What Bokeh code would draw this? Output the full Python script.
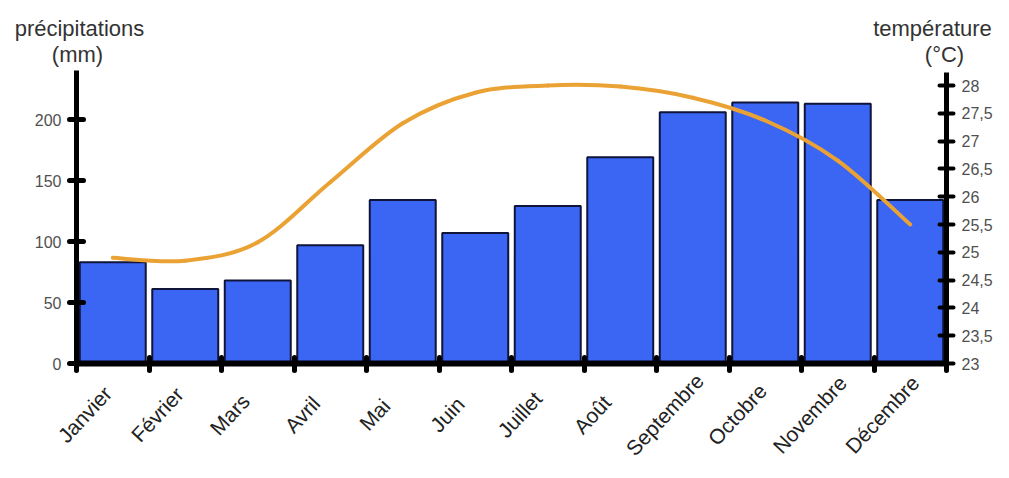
import math
from bokeh.plotting import figure
from bokeh.models import Range1d, LinearAxis, FixedTicker, Label
from bokeh.embed import file_html
from bokeh.resources import INLINE
from bokeh.core.properties import value

months = ["Janvier", "Février", "Mars", "Avril", "Mai", "Juin", "Juillet",
          "Août", "Septembre", "Octobre", "Novembre", "Décembre"]
precip = [83, 61, 68, 97, 134, 107, 129, 169, 206, 214, 213, 134]
temp = [24.9, 24.85, 25.18, 26.26, 27.32, 27.87, 28.0, 27.98, 27.78, 27.37, 26.65, 25.5]
precip_ticks = [0, 50, 100, 150, 200]
temp_ticks = [23, 23.5, 24, 24.5, 25, 25.5, 26, 26.5, 27, 27.5, 28]
temp_tick_labels = ["23", "23,5", "24", "24,5", "25", "25,5", "26", "26,5", "27", "27,5", "28"]

centers = [i + 0.5 for i in range(len(months))]
bounds = list(range(len(months) + 1))

W, H = 993, 462
X0, XS = 76, 72.5      # pixel of x=0, pixels per month
Y0, YS = 363, 1.22     # pixel of precip 0, pixels per mm
TS = 55.6              # pixels per degree
P_TOP = (Y0 - 70) / YS
T_TOP = 23 + (Y0 - 72) / TS

p = figure(width=W, height=H, output_backend="svg", toolbar_location=None,
           x_range=Range1d(-X0 / XS, (W - X0) / XS),
           y_range=Range1d(-(H - Y0) / YS, Y0 / YS),
           x_axis_location=None, y_axis_location=None, min_border=0)
p.outline_line_color = None
p.xgrid.visible = False
p.ygrid.visible = False
p.background_fill_color = "white"
p.extra_y_ranges = {"temp": Range1d(23 - (H - Y0) / TS, 23 + Y0 / TS)}

def style_axis(ax):
    ax.axis_line_width = 5
    ax.axis_line_color = "black"
    ax.major_tick_line_width = 5
    ax.major_tick_line_color = "black"
    ax.major_tick_line_cap = "round"
    ax.major_tick_in = 7
    ax.major_tick_out = 7
    ax.minor_tick_line_color = None
    ax.major_label_text_font = "Liberation Sans"
    ax.major_label_text_font_size = "16px"
    ax.major_label_text_color = "#505050"
    ax.major_label_standoff = 8

# left axis
ya = LinearAxis(ticker=FixedTicker(ticks=precip_ticks), fixed_location=0, bounds=(0, P_TOP))
style_axis(ya)
p.add_layout(ya, "left")

# right axis
ra = LinearAxis(y_range_name="temp", ticker=FixedTicker(ticks=temp_ticks),
                fixed_location=len(months), bounds=(23, T_TOP))
ra.major_label_overrides = {t: s for t, s in zip(temp_ticks, temp_tick_labels)}
style_axis(ra)
ra.major_tick_line_width = 4
ra.major_label_standoff = 8
p.add_layout(ra, "right")

# bottom axis: ticks at month boundaries
xa = LinearAxis(ticker=FixedTicker(ticks=[], minor_ticks=bounds),
                fixed_location=0, bounds=(0, len(months)))
xa.axis_line_width = 6
xa.axis_line_color = "black"
xa.major_tick_line_color = None
xa.minor_tick_line_color = "black"
xa.minor_tick_line_width = 5
xa.minor_tick_line_cap = "round"
xa.minor_tick_in = 6
xa.minor_tick_out = 7
p.add_layout(xa, "below")

# bars
p.vbar(x=centers, top=precip, bottom=0, width=0.91,
       fill_color="#3b66f4", line_color="#10143a", line_width=2)

# smooth temperature curve (Catmull-Rom converted to cubic Bezier segments)
n = len(temp)
x0, y0, x1, y1, cx0, cy0, cx1, cy1 = [], [], [], [], [], [], [], []
for i in range(n - 1):
    a = max(i - 1, 0)
    d = min(i + 2, n - 1)
    x0.append(centers[i]); y0.append(temp[i])
    x1.append(centers[i + 1]); y1.append(temp[i + 1])
    cx0.append(centers[i] + (centers[i + 1] - centers[a]) / 6)
    cy0.append(temp[i] + (temp[i + 1] - temp[a]) / 6)
    cx1.append(centers[i + 1] - (centers[d] - centers[i]) / 6)
    cy1.append(temp[i + 1] - (temp[d] - temp[i]) / 6)
p.bezier(x0=x0, y0=y0, x1=x1, y1=y1, cx0=cx0, cy0=cy0, cx1=cx1, cy1=cy1,
         y_range_name="temp", line_color="#eba234", line_width=4, line_cap="round")

# month labels, rotated, centred below each month
LABEL_DX = -28 / XS
LABEL_Y = -(414 - Y0) / YS
p.text(x=[c + LABEL_DX for c in centers], y=[LABEL_Y] * len(months), text=months,
       angle=math.radians(47), text_align="center", text_baseline="middle",
       text_font=value("Liberation Sans"), text_font_size="21px", text_color="#222222")

# axis titles
def title(text, px, py):
    p.add_layout(Label(x=(px - X0) / XS, y=(Y0 - py) / YS, text=text,
                       text_align="center", text_baseline="alphabetic",
                       text_font="Liberation Sans", text_font_size="22px",
                       text_color="#333333"))

title("précipitations", 79, 28)
title("(mm)", 77, 54)
title("température", 932, 28)
title("(°C)", 944, 54)

open("out.html", "w").write(file_html(p, INLINE))
